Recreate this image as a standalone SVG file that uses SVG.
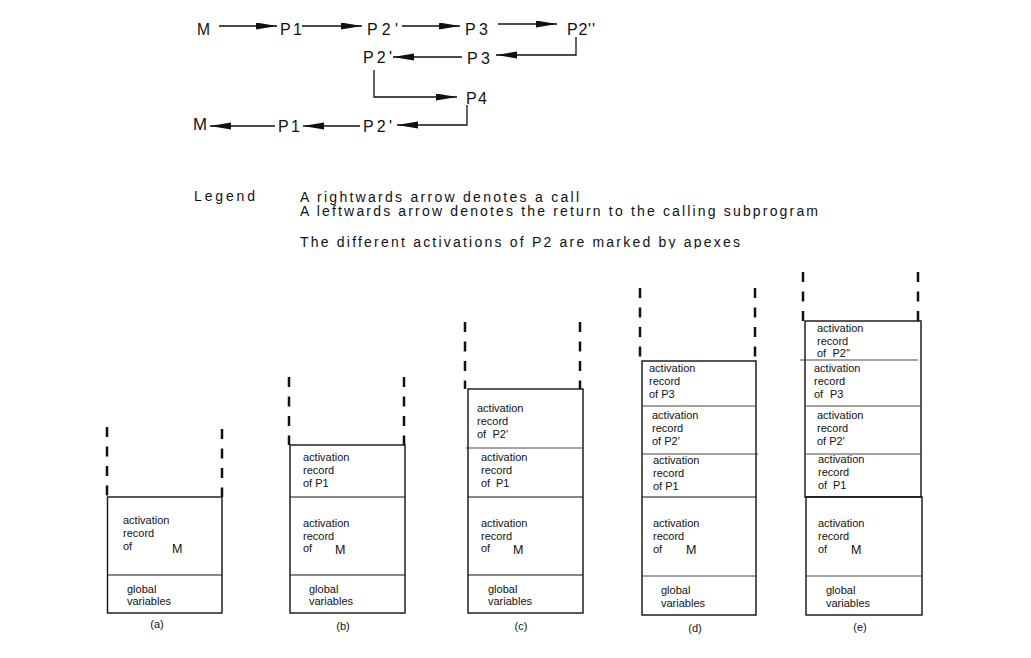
<svg xmlns="http://www.w3.org/2000/svg" width="1031" height="658" viewBox="0 0 1031 658">
<style>
.lbl{font-family:"Liberation Sans",Arial,sans-serif;font-size:16px;fill:#111}
.leg{font-family:"Liberation Sans",Arial,sans-serif;font-size:14px;fill:#111}
.t{font-family:"Liberation Sans",Arial,sans-serif;font-size:11px;fill:#111}
.m{font-family:"Liberation Sans",Arial,sans-serif;font-size:12.5px;fill:#111}
.conn{fill:none;stroke:#111;stroke-width:1.3}
.box{fill:none;stroke:#111;stroke-width:1.4}
.div{stroke:#111;stroke-width:1.2}
.thin{stroke:#333;stroke-width:0.9}
.dash{stroke:#111;stroke-width:2.5;stroke-dasharray:10 9.5}
</style>
<defs>
<marker id="ah" markerUnits="userSpaceOnUse" markerWidth="22" markerHeight="8" refX="21" refY="3.5" orient="auto">
<path d="M0,0 L21,3.5 L0,7 Z" fill="#111"/>
</marker>
<clipPath id="clip3"><rect x="290" y="228" width="470" height="20.5"/></clipPath>
</defs>
<rect width="1031" height="658" fill="#fff"/>

<g id="call-nodes">
<text id="n-M1" class="lbl" x="197" y="35" textLength="13" lengthAdjust="spacingAndGlyphs">M</text>
<text id="n-P1a" class="lbl" x="280" y="35" textLength="22" lengthAdjust="spacing">P1</text>
<text id="n-P2a" class="lbl" x="367" y="35" textLength="31" lengthAdjust="spacing">P2'</text>
<text id="n-P3a" class="lbl" x="465" y="35" textLength="23" lengthAdjust="spacing">P3</text>
<text id="n-P2b" class="lbl" x="567" y="35" textLength="28" lengthAdjust="spacing">P2''</text>
<text id="n-P3b" class="lbl" x="467" y="64" textLength="23" lengthAdjust="spacing">P3</text>
<text id="n-P2c" class="lbl" x="363" y="63" textLength="29" lengthAdjust="spacing">P2'</text>
<text id="n-P4" class="lbl" x="466" y="104" textLength="21" lengthAdjust="spacing">P4</text>
<text id="n-P2d" class="lbl" x="363" y="131.5" textLength="29" lengthAdjust="spacing">P2'</text>
<text id="n-P1b" class="lbl" x="278" y="131.5" textLength="22" lengthAdjust="spacing">P1</text>
<text id="n-M2" class="lbl" x="193" y="129.5" textLength="14" lengthAdjust="spacingAndGlyphs">M</text>
</g>

<g id="connectors">
<line class="conn" x1="219" y1="26" x2="277" y2="26" marker-end="url(#ah)"/>
<line class="conn" x1="302" y1="26" x2="362" y2="26" marker-end="url(#ah)"/>
<line class="conn" x1="402" y1="26" x2="460" y2="26" marker-end="url(#ah)"/>
<line class="conn" x1="498" y1="24" x2="557" y2="24" marker-end="url(#ah)"/>
<polyline class="conn" points="576,37 576,55 496,55" marker-end="url(#ah)"/>
<line class="conn" x1="462" y1="57" x2="393" y2="57" marker-end="url(#ah)"/>
<polyline class="conn" points="374,70 374,97 457,97" marker-end="url(#ah)"/>
<polyline class="conn" points="467,105 467,125 397,125" marker-end="url(#ah)"/>
<line class="conn" x1="360" y1="126" x2="303" y2="126" marker-end="url(#ah)"/>
<line class="conn" x1="275" y1="126" x2="210" y2="126" marker-end="url(#ah)"/>
</g>

<g id="legend">
<text class="leg" x="194" y="201" textLength="61" lengthAdjust="spacing">Legend</text>
<text class="leg" x="300" y="202" textLength="279" lengthAdjust="spacing">A rightwards arrow denotes a call</text>
<text class="leg" x="300" y="216" textLength="518" lengthAdjust="spacing">A leftwards arrow denotes the return to the calling subprogram</text>
<text class="leg" x="300" y="247" textLength="440" lengthAdjust="spacing" clip-path="url(#clip3)">The different activations of P2 are marked by apexes</text>
</g>

<g id="stack-a">
<line class="dash" x1="107" y1="427" x2="107" y2="497"/>
<line class="dash" x1="222" y1="429" x2="222" y2="497"/>
<rect class="box" x="107.5" y="497" width="114.5" height="116"/>
<line class="div" x1="107.5" y1="575" x2="222" y2="575"/>
<text class="t" x="123" y="524">activation</text>
<text class="t" x="123" y="537">record</text>
<text class="t" x="123" y="549.5">of</text>
<text class="m" x="172" y="552.5">M</text>
<text class="t" x="127" y="593">global</text>
<text class="t" x="127" y="605">variables</text>
<text class="t" x="157" y="628" text-anchor="middle">(a)</text>
</g>

<g id="stack-b">
<line class="dash" x1="289" y1="377" x2="289" y2="445"/>
<line class="dash" x1="404" y1="377" x2="404" y2="445"/>
<rect class="box" x="290" y="445" width="115" height="168"/>
<line class="div" x1="290" y1="497" x2="405" y2="497"/>
<line class="div" x1="290" y1="575" x2="405" y2="575"/>
<text class="t" x="303" y="461">activation</text>
<text class="t" x="303" y="474">record</text>
<text class="t" x="303" y="487">of P1</text>
<text class="t" x="303" y="527">activation</text>
<text class="t" x="303" y="540">record</text>
<text class="t" x="303" y="552">of</text>
<text class="m" x="335" y="553.5">M</text>
<text class="t" x="309" y="593">global</text>
<text class="t" x="309" y="605">variables</text>
<text class="t" x="343" y="630" text-anchor="middle">(b)</text>
</g>

<g id="stack-c">
<line class="dash" x1="465" y1="322" x2="465" y2="389"/>
<line class="dash" x1="580" y1="322" x2="580" y2="389"/>
<rect class="box" x="468" y="389" width="115" height="224"/>
<line class="thin" x1="466" y1="448" x2="583" y2="448"/>
<line class="div" x1="468" y1="497" x2="583" y2="497"/>
<line class="div" x1="468" y1="575" x2="583" y2="575"/>
<text class="t" x="477" y="412">activation</text>
<text class="t" x="477" y="425">record</text>
<text class="t" x="477" y="437.5">of<tspan x="492.5">P2'</tspan></text>
<text class="t" x="481" y="461">activation</text>
<text class="t" x="481" y="474">record</text>
<text class="t" x="481" y="487">of<tspan x="496">P1</tspan></text>
<text class="t" x="481" y="527">activation</text>
<text class="t" x="481" y="540">record</text>
<text class="t" x="481" y="552">of</text>
<text class="m" x="513" y="553.5">M</text>
<text class="t" x="488" y="593">global</text>
<text class="t" x="488" y="605">variables</text>
<text class="t" x="521" y="630" text-anchor="middle">(c)</text>
</g>

<g id="stack-d">
<line class="dash" x1="640" y1="288" x2="640" y2="358"/>
<line class="dash" x1="755" y1="288" x2="755" y2="358"/>
<rect class="box" x="642" y="361" width="114" height="254"/>
<line class="thin" x1="642" y1="406" x2="756" y2="406"/>
<line class="thin" x1="642" y1="454" x2="758" y2="454"/>
<line class="div" x1="642" y1="497" x2="756" y2="497"/>
<line class="thin" x1="642" y1="576" x2="756" y2="576"/>
<text class="t" x="649" y="372">activation</text>
<text class="t" x="649" y="385">record</text>
<text class="t" x="649" y="398">of P3</text>
<text class="t" x="652" y="419">activation</text>
<text class="t" x="652" y="432">record</text>
<text class="t" x="652" y="445">of P2'</text>
<text class="t" x="653" y="464">activation</text>
<text class="t" x="653" y="477">record</text>
<text class="t" x="653" y="490">of P1</text>
<text class="t" x="653" y="527">activation</text>
<text class="t" x="653" y="540">record</text>
<text class="t" x="653" y="553">of</text>
<text class="m" x="686" y="554">M</text>
<text class="t" x="661" y="594">global</text>
<text class="t" x="661" y="607">variables</text>
<text class="t" x="695" y="632" text-anchor="middle">(d)</text>
</g>

<g id="stack-e">
<line class="dash" x1="803" y1="272" x2="803" y2="321"/>
<line class="dash" x1="918" y1="272" x2="918" y2="321"/>
<rect class="box" x="805" y="321" width="116" height="176"/>
<line class="thin" x1="800" y1="360" x2="918" y2="360"/>
<line class="thin" x1="805" y1="406" x2="921" y2="406"/>
<line class="thin" x1="805" y1="454" x2="921" y2="454"/>
<rect class="box" x="806" y="497" width="116" height="118"/>
<line class="thin" x1="806" y1="576" x2="922" y2="576"/>
<text class="t" x="817" y="332">activation</text>
<text class="t" x="817" y="345">record</text>
<text class="t" x="817" y="357">of<tspan x="832.5">P2''</tspan></text>
<text class="t" x="814" y="372">activation</text>
<text class="t" x="814" y="385">record</text>
<text class="t" x="814" y="398">of<tspan x="830">P3</tspan></text>
<text class="t" x="817" y="419">activation</text>
<text class="t" x="817" y="432">record</text>
<text class="t" x="817" y="445">of P2'</text>
<text class="t" x="818" y="463">activation</text>
<text class="t" x="818" y="476">record</text>
<text class="t" x="818" y="489">of<tspan x="833">P1</tspan></text>
<text class="t" x="818" y="527">activation</text>
<text class="t" x="818" y="540">record</text>
<text class="t" x="818" y="553">of</text>
<text class="m" x="851" y="554">M</text>
<text class="t" x="826" y="594">global</text>
<text class="t" x="826" y="607">variables</text>
<text class="t" x="860" y="631" text-anchor="middle">(e)</text>
</g>
</svg>
